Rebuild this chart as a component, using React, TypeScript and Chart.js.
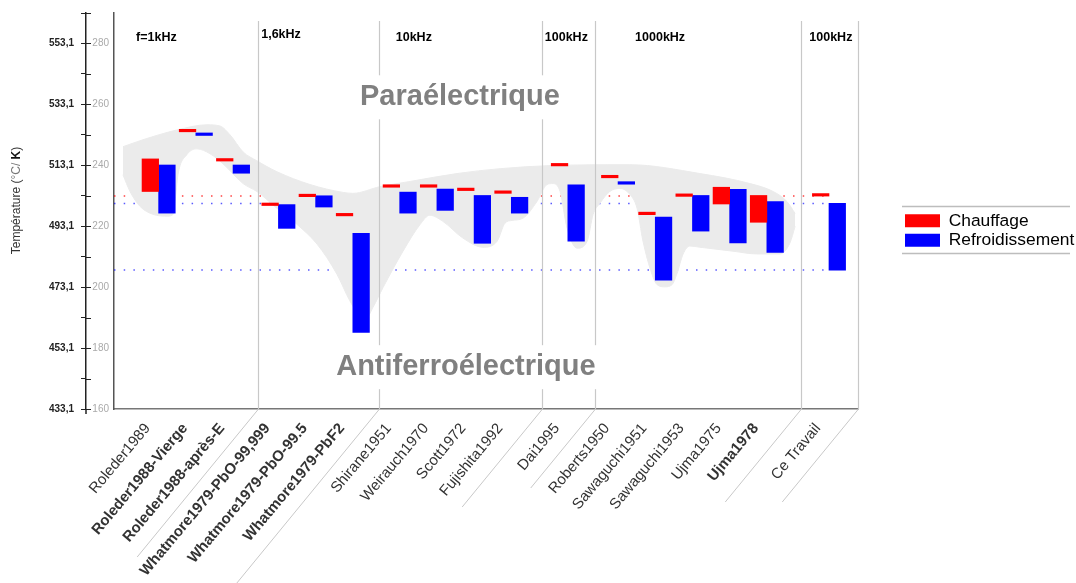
import React, { useEffect, useRef } from 'react';
import { Chart, registerables } from 'chart.js';

Chart.register(...registerables);

// ---------------- data ----------------
const categories = [
  'Roleder1989', 'Roleder1988-Vierge', 'Roleder1988-après-E',
  'Whatmore1979-PbO-99,999', 'Whatmore1979-PbO-99.5', 'Whatmore1979-PbF2',
  'Shirane1951', 'Weirauch1970', 'Scott1972', 'Fujishita1992',
  'Dai1995',
  'Roberts1950', 'Sawaguchi1951', 'Sawaguchi1953', 'Ujma1975', 'Ujma1978',
  'Ce Travail',
];
// frequency group of each category
const groupOf = [0, 0, 0, 1, 1, 1, 2, 2, 2, 2, 3, 4, 4, 4, 4, 4, 5];
const frequencyLabels = ['f=1kHz', '1,6kHz', '10kHz', '100kHz', '1000kHz', '100kHz'];
const emphasized = [
  'Roleder1988-Vierge', 'Roleder1988-après-E', 'Whatmore1979-PbO-99,999',
  'Whatmore1979-PbO-99.5', 'Whatmore1979-PbF2', 'Ujma1978',
];

// heating (Chauffage) transition range, °C
const heatLow = [231.4, 251.0, 241.4, 226.8, 229.7, 223.4, 232.8, 232.8, 231.7, 230.8, 239.8, 235.9, 223.8, 229.8, 227.3, 221.3, 229.9];
const heatHigh = [242.1, 251.0, 241.4, 226.8, 229.7, 223.4, 232.8, 232.8, 231.7, 230.8, 239.8, 235.9, 223.8, 229.8, 232.8, 230.1, 229.9];
// cooling (Refroidissement) transition range, °C
const coolLow = [224.3, 249.8, 237.4, 219.3, 226.3, 185.1, 224.3, 225.2, 214.4, 224.3, 215.1, 233.8, 202.3, 218.4, 214.5, 211.4, 205.6];
const coolHigh = [240.1, 249.8, 240.1, 227.1, 230.0, 217.7, 231.2, 232.2, 230.1, 229.5, 233.6, 233.8, 223.0, 230.1, 232.1, 228.1, 227.5];

// grey transition zone outline (x in category slots, y in °C)
const bandTopX = [0.24, 0.78, 1.69, 2.5, 2.85, 3.12, 3.47, 3.84, 4.38, 5.27, 6.16, 6.42, 7.15, 7.96, 9.22, 10.38, 11.72, 13.87, 15.75, 17.1, 17.72, 18.09, 18.31];
const bandTopT = [246.1, 248.4, 251.6, 253.3, 252.9, 250.0, 244.4, 241.5, 237.9, 233.7, 231.1, 230.8, 233.0, 234.7, 237.3, 238.9, 239.9, 240.2, 237.3, 234.0, 231.4, 228.1, 224.2];
const bandBottomX = [0.24, 0.43, 0.70, 1.05, 1.45, 1.59, 1.64, 1.72, 1.96, 2.23, 2.58, 2.93, 3.47, 3.84, 4.38, 4.92, 5.46, 5.99, 6.34, 6.61, 6.77, 6.96, 7.23, 7.77, 8.23, 8.49, 8.84, 9.38, 9.92, 10.30, 10.51, 10.70, 10.99, 11.37, 11.64, 11.80, 11.99, 12.18, 12.45, 12.72, 12.88, 13.06, 13.33, 13.60, 13.87, 14.06, 14.22, 14.46, 14.60, 14.81, 15.0, 15.13, 15.30, 15.48, 15.75, 16.64, 17.28, 17.90, 18.17, 18.31];
const bandBottomT = [236.9, 231.4, 226.5, 223.9, 223.3, 223.9, 228.1, 236.9, 243.5, 245.4, 243.8, 240.5, 234.0, 231.4, 225.9, 220.6, 214.1, 204.3, 195.5, 190.6, 189.7, 193.3, 199.8, 211.8, 220.6, 223.6, 221.6, 216.1, 213.1, 215.1, 221.0, 221.9, 222.6, 228.1, 233.7, 234.0, 231.4, 219.3, 212.8, 215.1, 223.9, 227.5, 231.4, 232.4, 230.4, 225.9, 215.1, 204.3, 200.8, 200.1, 200.8, 204.3, 210.9, 213.5, 213.1, 211.8, 210.9, 210.9, 214.5, 220.0];

const phaseLabels = ['Paraélectrique', 'Antiferroélectrique'];
const phaseLabelX = [9.3, 9.46];
const phaseLabelT = [259.7, 171.1];

const tempMin = 160;
const tempMax = 290;
const kelvinOffset = 273.1;

// ---------------- layout / style ----------------
const FONT = "'Liberation Sans', Arial, Helvetica, sans-serif";
const GROUP_LEAD = [1.2, 0.22, 0.26, 0.52, 0.35, 0.67];
const X_MAX = 20;
const FREQ_X = [1.14, 4.49, 8.06, 12.16, 14.68, 19.27];
const FREQ_BASE = [28.3, 25, 28.3, 28.3, 28.3, 28.3];
const SEP_DROP = [148, 200, 98, 79, 93, 93];

function slotPositions(): number[] {
  const xs: number[] = [];
  let lead = 0;
  let g = -1;
  categories.forEach((_, i) => {
    if (groupOf[i] !== g) {
      g = groupOf[i];
      lead += GROUP_LEAD[g];
    }
    xs.push(i + lead);
  });
  return xs;
}

function groupBoundaries(xs: number[]): number[] {
  const b: number[] = [];
  for (let i = 0; i < categories.length - 1; i++) {
    if (groupOf[i] !== groupOf[i + 1]) b.push(xs[i] + 0.55 * (xs[i + 1] - xs[i]));
  }
  b.push(X_MAX);
  return b;
}

export default function App() {
  const ref = useRef<HTMLCanvasElement>(null);

  useEffect(() => {
    document.body.style.margin = '0';
    document.documentElement.style.overflow = 'hidden';
    const canvas = ref.current as HTMLCanvasElement;
    const xs = slotPositions();
    const bounds = groupBoundaries(xs);
    const last = categories.length - 1;

    const refLines = [
      { v: heatHigh[last], c: 'rgba(255,0,0,0.75)' },
      { v: coolHigh[last], c: 'rgba(0,0,255,0.65)' },
      { v: coolLow[last], c: 'rgba(0,0,255,0.65)' },
    ];

    const decor = {
      id: 'decor',
      afterDraw(chart: any) {
        const { ctx, chartArea: ca, scales } = chart;
        const xS = scales.x;
        const yS = scales.y;
        const kS = scales.yK;
        ctx.save();

        // group separators and leaders under the labels
        bounds.forEach((b, k) => {
          const px = Math.round(xS.getPixelForValue(b)) + 0.5;
          ctx.strokeStyle = '#c8c8c8';
          ctx.lineWidth = 1.2;
          ctx.beginPath();
          ctx.moveTo(px, ca.top + 8);
          ctx.lineTo(px, ca.bottom);
          ctx.stroke();
          ctx.lineWidth = 1;
          const d = SEP_DROP[k];
          ctx.beginPath();
          ctx.moveTo(px, ca.bottom);
          ctx.lineTo(px - d / 1.22, ca.bottom + d);
          ctx.stroke();
        });

        // phase labels on white boxes
        ctx.font = `bold 29px ${FONT}`;
        ctx.textAlign = 'center';
        ctx.textBaseline = 'alphabetic';
        phaseLabels.forEach((txt, i) => {
          const px = xS.getPixelForValue(phaseLabelX[i]);
          const py = yS.getPixelForValue(phaseLabelT[i]);
          const w = ctx.measureText(txt).width;
          ctx.fillStyle = '#ffffff';
          ctx.fillRect(px - w / 2 - 5, py - 30, w + 10, 44);
          ctx.fillStyle = '#808080';
          ctx.fillText(txt, px, py);
        });

        // frequency labels
        ctx.font = `bold 12.5px ${FONT}`;
        ctx.fillStyle = '#000';
        frequencyLabels.forEach((t, i) => {
          ctx.fillText(t, xS.getPixelForValue(FREQ_X[i]), ca.top + FREQ_BASE[i]);
        });

        // K axis: tick marks crossing the axis line
        ctx.strokeStyle = '#222';
        ctx.lineWidth = 1;
        ctx.beginPath();
        kS.ticks.forEach((t: any) => {
          const py = Math.round(kS.getPixelForValue(t.value)) + 0.5;
          ctx.moveTo(kS.right, py);
          ctx.lineTo(kS.right + 5, py);
        });
        ctx.stroke();
        ctx.lineWidth = 1.5;
        ctx.beginPath();
        ctx.moveTo(Math.round(kS.right), ca.bottom);
        ctx.lineTo(Math.round(kS.right), ca.bottom + 5);
        ctx.stroke();

        // axis title with bold K
        ctx.save();
        ctx.translate(17, (ca.top + ca.bottom) / 2 - 10.5);
        ctx.rotate(-Math.PI / 2);
        ctx.textBaseline = 'middle';
        ctx.textAlign = 'left';
        const parts: [string, string, string][] = [
          ['Température (', 'normal', '#333'],
          ['°C/ ', 'normal', '#777'],
          ['K', 'bold', '#111'],
          [')', 'normal', '#333'],
        ];
        let total = 0;
        const widths = parts.map(([t, w]) => {
          ctx.font = `${w} 12px ${FONT}`;
          const m = ctx.measureText(t).width;
          total += m;
          return m;
        });
        let cx = -total / 2;
        parts.forEach(([t, w, c], i) => {
          ctx.font = `${w} 12px ${FONT}`;
          ctx.fillStyle = c;
          ctx.fillText(t, cx, 0);
          cx += widths[i];
        });
        ctx.restore();

        // legend rules
        const lg = chart.legend;
        if (lg && lg.legendHitBoxes && lg.legendHitBoxes.length) {
          const hb = lg.legendHitBoxes;
          const top = Math.round(hb[0].top - 6.5) + 0.5;
          const lastHb = hb[hb.length - 1];
          const bot = Math.round(lastHb.top + lastHb.height + 4.3) + 0.5;
          ctx.strokeStyle = '#bdbdbd';
          ctx.lineWidth = 1.5;
          [top, bot].forEach((yv) => {
            ctx.beginPath();
            ctx.moveTo(lg.left - 1, yv);
            ctx.lineTo(chart.width - 6, yv);
            ctx.stroke();
          });
        }
        ctx.restore();
      },
    };

    const datasets: any[] = [
      {
        type: 'bar',
        label: 'Chauffage',
        data: categories.map((_, i) => ({ x: xs[i], y: [heatLow[i], heatHigh[i]] })),
        backgroundColor: '#ff0000',
        borderWidth: 0,
        barThickness: 16.6,
        minBarLength: 2.5,
        order: 1,
      },
      {
        type: 'bar',
        label: 'Refroidissement',
        data: categories.map((_, i) => ({ x: xs[i], y: [coolLow[i], coolHigh[i]] })),
        backgroundColor: '#0000ff',
        borderWidth: 0,
        barThickness: 16.6,
        minBarLength: 2.5,
        order: 1,
      },
      {
        type: 'line',
        label: 'zoneTop',
        data: bandTopX.map((x, i) => ({ x, y: bandTopT[i] })),
        borderColor: '#ebebeb',
        borderWidth: 1,
        backgroundColor: '#ebebeb',
        pointRadius: 0,
        cubicInterpolationMode: 'monotone',
        fill: false,
        order: 5,
      },
      {
        type: 'line',
        label: 'zoneBottom',
        data: bandBottomX.map((x, i) => ({ x, y: bandBottomT[i] })),
        borderColor: '#ebebeb',
        borderWidth: 1,
        backgroundColor: '#ebebeb',
        pointRadius: 0,
        cubicInterpolationMode: 'monotone',
        fill: '-1',
        order: 5,
      },
      ...refLines.map((r) => ({
        type: 'line',
        label: 'ref',
        data: [{ x: 0, y: r.v }, { x: xs[last], y: r.v }],
        borderColor: r.c,
        borderWidth: 1.5,
        borderDash: [1.5, 8.2],
        pointRadius: 0,
        fill: false,
        order: 10,
      })),
    ];

    const chart = new Chart(canvas, {
      type: 'bar',
      data: { datasets },
      options: {
        responsive: false,
        animation: false,
        devicePixelRatio: 1,
        events: [],
        layout: { padding: { top: 10, left: 0, right: 0, bottom: 0 } },
        scales: {
          x: {
            type: 'linear',
            min: 0,
            max: X_MAX,
            offset: false,
            grid: { display: false, drawTicks: false },
            border: { display: true, color: '#777', width: 1.5 },
            afterBuildTicks: (s: any) => {
              s.ticks = xs.map((v) => ({ value: v }));
            },
            afterFit: (s: any) => {
              s.height = 174;
            },
            ticks: {
              autoSkip: false,
              minRotation: 50,
              maxRotation: 50,
              padding: 11,
              labelOffset: -11,
              color: '#333',
              callback: (_v: any, i: number) => categories[i],
              font: (c: any) => ({
                family: FONT,
                size: 15,
                weight: emphasized.includes(categories[c.index]) ? 'bold' : 'normal',
              }),
            },
          },
          y: {
            type: 'linear',
            position: 'left',
            weight: 0,
            min: tempMin,
            max: tempMax,
            grid: { display: false, drawTicks: false },
            border: { display: true, color: '#555', width: 1.5 },
            ticks: {
              stepSize: 20,
              includeBounds: false,
              color: '#aaa',
              padding: 5,
              font: { family: FONT, size: 10 },
            },
            afterFit: (s: any) => {
              s.width = 28;
            },
          },
          yK: {
            type: 'linear',
            position: 'left',
            weight: 1,
            min: tempMin,
            max: tempMax,
            grid: { display: true, drawOnChartArea: false, drawTicks: true, tickLength: 5, color: '#222', lineWidth: 1 },
            border: { display: true, color: '#222', width: 1.5 },
            ticks: {
              stepSize: 10,
              color: '#222',
              padding: 7,
              font: { family: FONT, size: 10, weight: 'bold' },
              callback: (v: any) => (Math.round(v) % 20 === 0 ? (v + kelvinOffset).toFixed(1).replace('.', ',') : ''),
            },
            afterFit: (s: any) => {
              s.width = 86;
            },
          },
          yR: {
            type: 'linear',
            position: 'right',
            weight: 0,
            min: 0,
            max: 1,
            grid: { display: false, drawTicks: false },
            border: { display: false },
            ticks: { display: false },
            afterFit: (s: any) => {
              s.width = 45;
            },
          },
        },
        plugins: {
          tooltip: { enabled: false },
          legend: {
            position: 'right',
            align: 'center',
            fullSize: false,
            maxWidth: 173,
            title: { display: true, text: '', font: { size: 10, lineHeight: 1.2 }, padding: { top: 27, bottom: 0 } },
            labels: {
              boxWidth: 35,
              boxHeight: 13,
              padding: 2,
              color: '#000',
              font: { family: FONT, size: 17.4 },
              filter: (item: any) => item.datasetIndex < 2,
            },
          },
        },
      } as any,
      plugins: [decor],
    } as any);

    return () => chart.destroy();
  }, []);

  return (
    <div style={{ width: 1076, height: 583 }}>
      <canvas ref={ref} width={1076} height={583} style={{ display: 'block' }} />
    </div>
  );
}
